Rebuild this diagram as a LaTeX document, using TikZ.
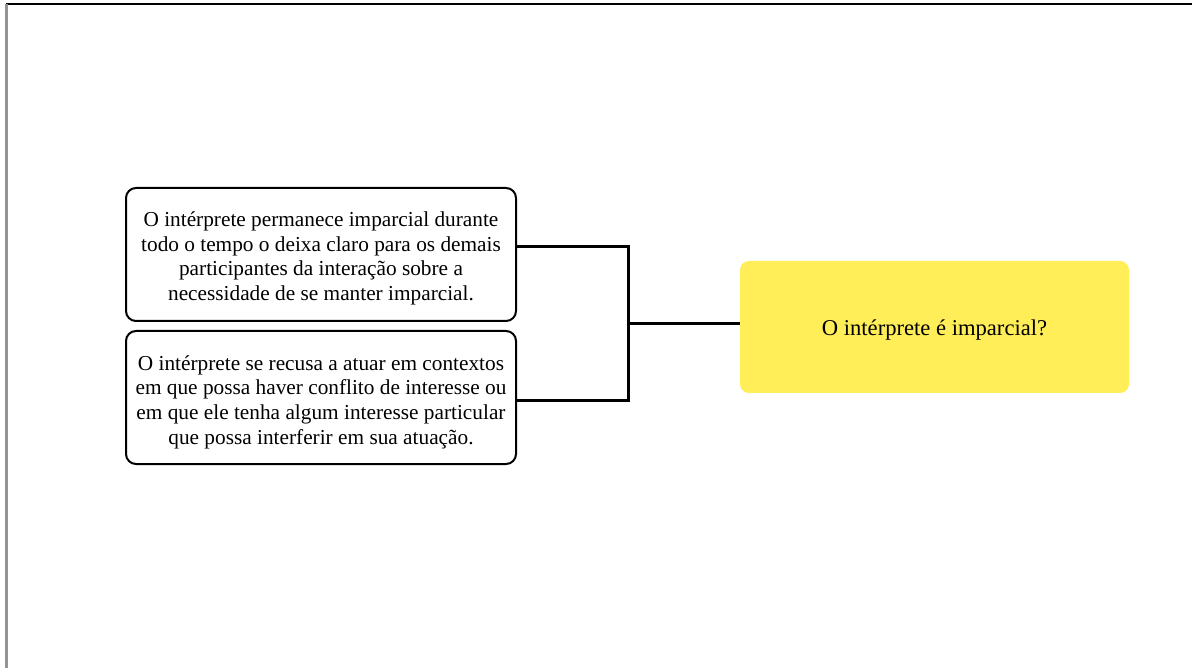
\documentclass[tikz,border=0pt]{standalone}
\usepackage{fontspec}
\setmainfont{Liberation Serif}
\begin{document}
\begin{tikzpicture}[x=1pt,y=-1pt,
  every node/.style={inner sep=0pt, outer sep=0pt},
  optionbox/.style={draw=black, line width=2pt, rounded corners=10pt, fill=white,
    minimum width=390pt, minimum height=133pt},
  optiontext/.style={align=center, font=\fontsize{21.3}{24.6}\selectfont},
  questionbox/.style={fill=qyellow, rounded corners=9pt,
    minimum width=389pt, minimum height=132pt},
  questiontext/.style={font=\fontsize{22.6}{26}\selectfont},
  link/.style={draw=black, line width=3pt}]
\definecolor{qyellow}{HTML}{FFEE58}
\useasboundingbox (0,0) rectangle (1192,668);
\fill[white] (0,0) rectangle (1192,668);
% page frame: top and left edges only
\draw[black, line width=2pt] (6,4.5) -- (1192,4.5);
\draw[gray!85, line width=2.2pt] (6.5,4) -- (6.5,668);

% the two answer boxes and their texts
\node[optionbox] (opt1) at (321,254.5) {};
\node[optiontext] (opt1text) at ([yshift=-4pt]opt1.center)
  {O intérprete permanece imparcial durante\\
   todo o tempo o deixa claro para os demais\\
   participantes da interação sobre a\\
   necessidade de se manter imparcial.};
\node[optionbox] (opt2) at (321,397.5) {};
\node[optiontext] (opt2text) at ([yshift=-4.5pt]opt2.center)
  {O intérprete se recusa a atuar em contextos\\
   em que possa haver conflito de interesse ou\\
   em que ele tenha algum interesse particular\\
   que possa interferir em sua atuação.};

% the question
\node[questionbox] (q) at (934.5,327) {};
\node[questiontext] (qtext) at ([yshift=-3pt]q.center) {O intérprete é imparcial?};

% bracket joining both answers to the question
\coordinate (j) at (628,324);
\draw[link] ([yshift=7.5pt]opt1.east) -| (j);
\draw[link] ([yshift=-2.5pt]opt2.east) -| (j);
\draw[link] (j) -- (q.west |- j);
\end{tikzpicture}
\end{document}
